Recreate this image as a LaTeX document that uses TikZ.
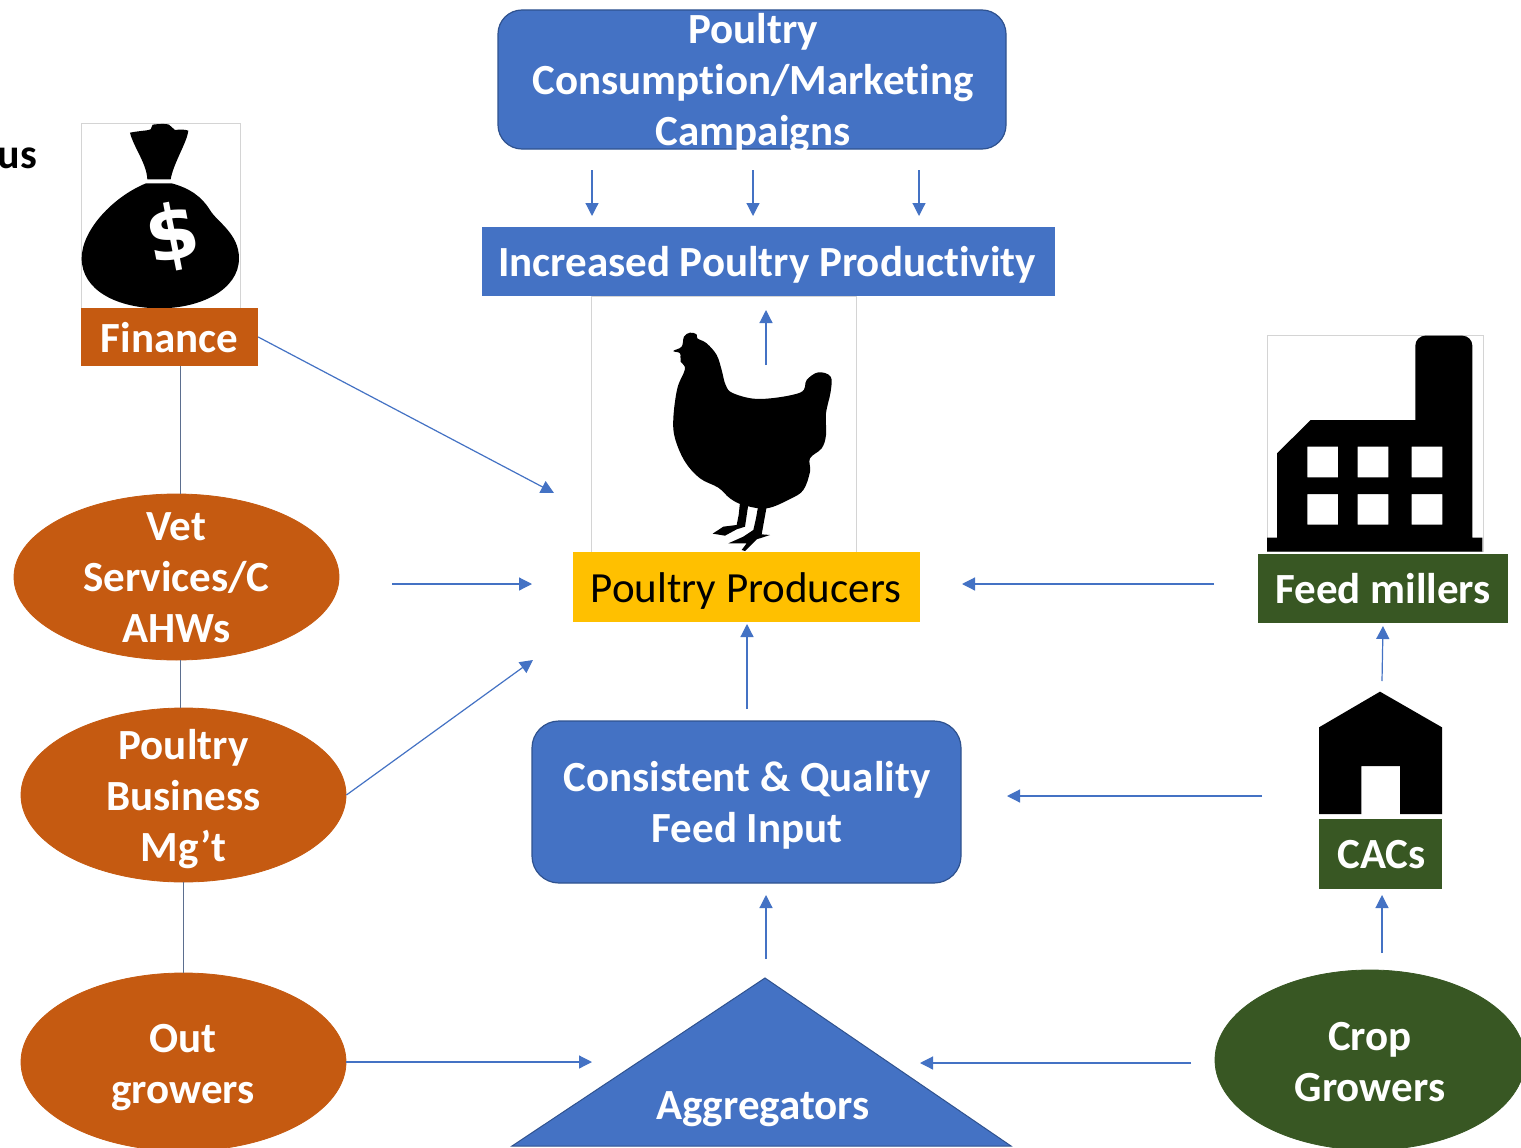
\documentclass[tikz,border=0pt]{standalone}
\usepackage{fontspec}
\setmainfont{Carlito}[Ligatures=NoCommon]
\newfontfamily\dollarfont{DejaVu Sans}
\usetikzlibrary{arrows.meta,shapes.geometric}
\definecolor{bluef}{HTML}{4472C4}
\definecolor{blued}{HTML}{2F528F}
\definecolor{orangef}{HTML}{C55A11}
\definecolor{greenf}{HTML}{385723}
\definecolor{yellowf}{HTML}{FFC000}
\definecolor{framegrey}{HTML}{D4D4D4}
\definecolor{linkgrey}{HTML}{5B6E8F}
\tikzset{
  lbl/.style={font=\fontsize{43}{51}\selectfont\bfseries,text=white,align=center,inner sep=0pt},
  rbox/.style={lbl,draw=blued,line width=1.2pt,fill=bluef,rounded corners=24pt},
  sbox/.style={lbl,minimum height=0pt,minimum width=0pt},
  oval/.style={lbl,ellipse,fill=orangef,draw=orangef,line width=.8pt},
  flow/.style={bluef,line width=1.2pt,-{Triangle[width=13pt,length=13pt]}},
  link/.style={linkgrey,line width=1pt},
  imgframe/.style={framegrey,line width=1pt},
  sil/.style={fill=black,draw=none}
}
\begin{document}
\begin{tikzpicture}[x=1pt,y=-1pt]
\clip (0,0) rectangle (1521,1148);
\fill[white] (0,0) rectangle (1521,1148);

% image frames
\draw[imgframe] (81,123) rectangle (240,308);
\draw[imgframe] (591,296) rectangle (856,552);
\draw[imgframe] (1267,335) rectangle (1483,551);

% money bag
\begin{scope}[shift={(0,110)},x=0.33333pt,y=-0.33333pt]
\fill[sil] (390,68) .. controls (420,62) and (445,62) .. (452,58) -- (458,44) .. controls (480,41) and (500,41) .. (507,44) -- (525,60) .. controls (540,58) and (555,58) .. (565,62)
  .. controls (562,95) and (520,160) .. (512,208) -- (442,208) .. controls (440,160) and (400,110) .. (390,68) -- cycle;
\fill[sil] (515,220) .. controls (570,235) and (605,260) .. (630,300) .. controls (650,335) and (717,370) .. (717,445)
  .. controls (717,540) and (600,595) .. (480,595) .. controls (350,595) and (245,540) .. (245,445)
  .. controls (245,360) and (340,260) .. (438,220) -- cycle;
\node[font=\dollarfont\fontsize{76}{76}\selectfont\bfseries,text=white,rotate=11,inner sep=0pt] (dollar) at (518,380) {\$};
\end{scope}

% hen
\begin{scope}[shift={(590,295)},x=0.33333pt,y=-0.33333pt]
\fill[sil] plot[smooth cycle,tension=0.6] coordinates {(250,168)(275,155)(282,125)(300,113)(320,118)(322,130)(350,145)(380,180)(395,225)(407,270)(430,295)(510,312)(630,293)(650,255)(685,232)(722,245)(722,290)(708,355)(708,420)(695,460)(660,490)(660,530)(640,585)(600,612)(530,640)(460,630)(420,610)(385,578)(330,550)(285,500)(255,430)(250,370)(262,280)(285,222)(272,200)(270,175)};
\fill[sil] (505,630) -- (530,635) -- (515,718) -- (540,720) -- (500,733) -- (465,768) -- (455,765) -- (470,745) -- (415,745) -- (460,725) -- (490,705) -- (498,670) -- cycle;
\fill[sil] (450,622) -- (475,628) -- (465,695) -- (440,703) -- (405,722) -- (368,716) -- (400,695) -- (440,690) -- (446,660) -- cycle;
\end{scope}

% factory
\begin{scope}[shift={(1250,325)},x=0.33333pt,y=-0.33333pt]
\fill[sil,even odd rule] (51,638) -- (81,638) -- (81,385) -- (182,285) -- (496,285) -- (496,62) arc[start angle=180,end angle=270,radius=30] -- (637,32) arc[start angle=270,end angle=360,radius=30] -- (667,638) -- (697,638) -- (697,680) -- (51,680) -- cycle
  (172,365) rectangle (264,457) (323,365) rectangle (415,457) (485,365) rectangle (577,457)
  (172,507) rectangle (264,599) (323,507) rectangle (415,599) (485,507) rectangle (577,599);
\end{scope}

% house
\begin{scope}[shift={(1290,680)},x=0.33333pt,y=-0.33333pt]
\fill[sil] (270,35) -- (456,142) -- (456,402) -- (330,402) -- (330,258) -- (214,258) -- (214,402) -- (87,402) -- (87,142) -- cycle;
\end{scope}

% text at the left edge
\node[font=\fontsize{42}{51}\selectfont\bfseries,text=black,inner sep=0pt,anchor=base east] (cut) at (37,168) {us};

% top boxes
\node[rbox,minimum width=508pt,minimum height=139pt] (campaign) at (752,79.5) {};
\node[lbl,text width=500pt] (campaigntxt) at (753,83) {Poultry\\Consumption/Marketing\\Campaigns};
\node[sbox,fill=bluef,minimum width=573pt,minimum height=69pt] (increased) at (768.5,261.5) {};
\node[lbl] (increasedtxt) at (767,264.5) {Increased Poultry Productivity};

% finance
\node[sbox,fill=orangef,minimum width=177pt,minimum height=58pt] (finance) at (169.5,337) {};
\node[lbl] (financetxt) at (169.5,338) {Finance};

% producers
\node[sbox,fill=yellowf,minimum width=347pt,minimum height=70pt] (producers) at (746.5,587) {};
\node[lbl,text=black,font=\fontsize{43}{51}\selectfont] (producerstxt) at (746,591) {Poultry Producers};

% feed
\node[sbox,fill=greenf,minimum width=250pt,minimum height=69pt] (feed) at (1383,588.5) {};
\node[lbl] (feedtxt) at (1383,588.5) {Feed millers};
\node[sbox,fill=greenf,minimum width=123pt,minimum height=70pt] (cacs) at (1380.5,854) {};
\node[lbl] (cacstxt) at (1381.5,855) {CACs};

% ovals
\node[oval,minimum width=325pt,minimum height=166pt] (vet) at (176.5,577) {};
\node[lbl] (vettxt) at (176.5,578) {Vet\\Services/C\\AHWs};
\node[oval,minimum width=325pt,minimum height=174pt] (mgt) at (183.5,795) {};
\node[lbl] (mgttxt) at (183.5,799) {Poultry\\Business\\Mg’t};
\node[oval,minimum width=325pt,minimum height=178pt] (out) at (183.5,1062) {};
\node[lbl] (outtxt) at (183,1068) {Out\\growers};
\node[oval,fill=greenf,draw=greenf,minimum width=310pt,minimum height=180pt] (crop) at (1370,1060) {};
\node[lbl] (croptxt) at (1370,1062) {Crop\\Growers};

% centre box
\node[rbox,rounded corners=27pt,minimum width=429pt,minimum height=162pt] (input) at (746.5,802) {};
\node[lbl] (inputtxt) at (747,805) {Consistent \& Quality\\Feed Input};

% aggregators
\coordinate (apex) at (765,978);
\coordinate (baseL) at (512,1146);
\coordinate (baseR) at (1011,1146);
\fill[bluef] (apex) -- (baseR) -- (baseL) -- cycle;
\draw[blued,line width=1pt] (apex) -- (baseR) -- (baseL) -- cycle;
\node[lbl] (agg) at (763,1109) {Aggregators};

% free ends of arrows
\coordinate (t1a) at (592,170); \coordinate (t1b) at (592,216);
\coordinate (t2a) at (753,170); \coordinate (t2b) at (753,216);
\coordinate (t3a) at (919,170); \coordinate (t3b) at (919,216);
\coordinate (upa) at (766,365); \coordinate (upb) at (766,310);
\coordinate (finend) at (554,493);
\coordinate (vetstart) at (392,584); \coordinate (vetend) at (532,584);
\coordinate (mgtend) at (533,660);
\coordinate (feedstart) at (1214,584); \coordinate (feedend) at (962,584);
\coordinate (inpa) at (747,709); \coordinate (inpb) at (747,624);
\coordinate (caca) at (1382,681); \coordinate (cacb) at (1383,626);
\coordinate (cfa) at (1262,796); \coordinate (cfb) at (1007,796);
\coordinate (agga) at (766,959); \coordinate (aggb) at (766,895);
\coordinate (cropa) at (1382,953); \coordinate (cropb) at (1382,895);
\coordinate (outend) at (592,1062);
\coordinate (cropstart) at (1191,1063); \coordinate (cropend) at (920,1063);

\draw[flow] (t1a) -- (t1b);
\draw[flow] (t2a) -- (t2b);
\draw[flow] (t3a) -- (t3b);
\draw[flow] (upa) -- (upb);
\draw[flow] (finance.east) -- (finend);
\draw[flow] (vetstart) -- (vetend);
\draw[flow] (mgt.east) -- (mgtend);
\draw[flow] (feedstart) -- (feedend);
\draw[flow] (inpa) -- (inpb);
\draw[flow] (caca) -- (cacb);
\draw[flow] (cfa) -- (cfb);
\draw[flow] (agga) -- (aggb);
\draw[flow] (cropa) -- (cropb);
\draw[flow] (out.east) -- (outend);
\draw[flow] (cropstart) -- (cropend);

% plain links
\draw[link] (finance.south -| vet.north) ++(3.5,0) -- ++(0,128);
\draw[link] (vet.south) ++(3.5,0) -- ++(0,48);
\draw[link] (mgt.south) -- (out.north);
\end{tikzpicture}
\end{document}
